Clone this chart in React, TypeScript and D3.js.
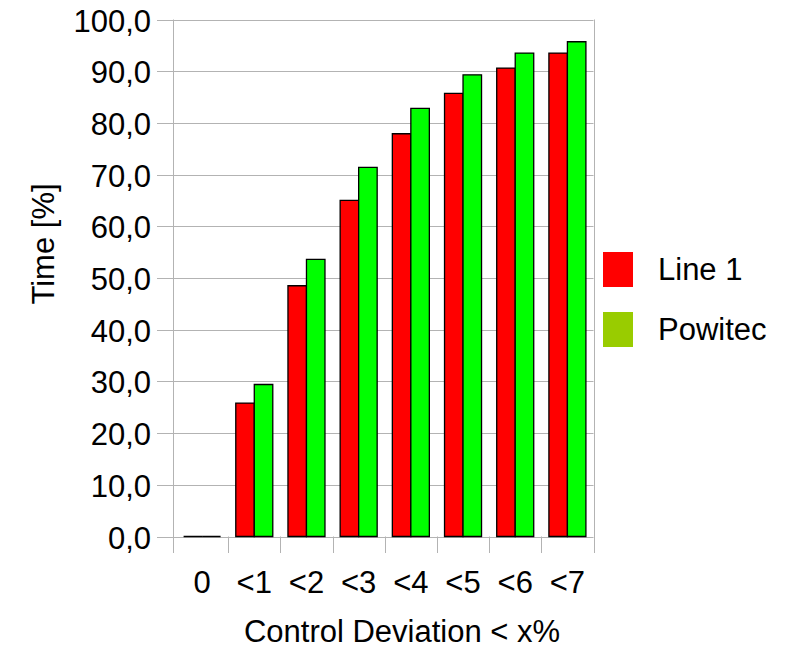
import { useRef, useEffect } from 'react';
import * as d3 from 'd3';

const categories = ['0', '<1', '<2', '<3', '<4', '<5', '<6', '<7'];
const series = ['Line 1', 'Powitec'];
const line1 = [0, 25.8, 48.5, 65.0, 77.9, 85.7, 90.6, 93.5];
const powitec = [0, 29.4, 53.6, 71.4, 82.8, 89.3, 93.5, 95.7];
const yTicks = [0, 10, 20, 30, 40, 50, 60, 70, 80, 90, 100];

const barColors = ['#ff0000', '#00ff00'];
const legendColors = ['#ff0000', '#99cc00'];

export default function App() {
  const svgRef = useRef<SVGSVGElement>(null);

  useEffect(() => {
    const svg = d3.select(svgRef.current);
    svg.selectAll('*').remove();

    const axisX = 173.5;
    const x0 = 176, x1 = 593.5;
    const top = 19.5, bottom = 536.5;
    const font = '"Liberation Sans", Arial, sans-serif';
    const fs = 31;

    const x = d3.scaleBand<string>().domain(categories).range([x0, x1]).padding(0);
    const xs = d3.scaleBand<string>().domain(series).range([0, x.bandwidth()])
      .paddingInner(0).paddingOuter(0.41);
    const y = d3.scaleLinear().domain([0, 100]).range([bottom, top]);

    const g = svg.append('g');

    // grid + y ticks
    yTicks.forEach(t => {
      const yy = Math.round(y(t)) + 0.5;
      g.append('line').attr('x1', 157).attr('x2', x1).attr('y1', yy).attr('y2', yy)
        .attr('stroke', '#b3b3b3').attr('stroke-width', 1);
      g.append('text').attr('x', 151).attr('y', yy + 11)
        .attr('text-anchor', 'end').attr('font-family', font).attr('font-size', fs)
        .attr('fill', '#000').text(d3.format('.1f')(t).replace('.', ','));
    });

    // vertical axis + right border
    g.append('line').attr('x1', axisX).attr('x2', axisX).attr('y1', top).attr('y2', 553)
      .attr('stroke', '#b3b3b3');
    // category ticks
    categories.forEach((c, i) => {
      if (i === 0) return;
      const xx = Math.round(x(c)!) + 0.5;
      g.append('line').attr('x1', xx).attr('x2', xx).attr('y1', bottom).attr('y2', 553)
        .attr('stroke', '#b3b3b3');
    });
    const xr = Math.round(x1) + 0.5;
    g.append('line').attr('x1', xr).attr('x2', xr).attr('y1', top).attr('y2', 553)
      .attr('stroke', '#b3b3b3');

    // bars
    const data = [line1, powitec];
    categories.forEach((c, i) => {
      series.forEach((s, j) => {
        const bx = x(c)! + xs(s)!;
        const bw = xs.bandwidth();
        const by = y(data[j][i]);
        g.append('path')
          .attr('d', `M${bx},${bottom} V${by} H${bx + bw} V${bottom} Z`)
          .attr('fill', barColors[j]).attr('stroke', '#000').attr('stroke-width', 1.3)
          .attr('stroke-linejoin', 'miter');
      });
      g.append('text').attr('x', x(c)! + x.bandwidth() / 2).attr('y', 593)
        .attr('text-anchor', 'middle').attr('font-family', font).attr('font-size', fs)
        .text(c);
    });

    // axis titles
    svg.append('text').attr('x', 402).attr('y', 642).attr('text-anchor', 'middle')
      .attr('font-family', font).attr('font-size', fs).text('Control Deviation < x%');
    svg.append('text').attr('transform', 'translate(54,244) rotate(-90)')
      .attr('text-anchor', 'middle').attr('font-family', font).attr('font-size', fs)
      .text('Time [%]');

    // legend
    series.forEach((s, j) => {
      const ly = 252 + j * 60;
      svg.append('rect').attr('x', 603).attr('y', ly).attr('width', 30).attr('height', 35)
        .attr('fill', legendColors[j]);
      svg.append('text').attr('x', 658).attr('y', ly + 28)
        .attr('font-family', font).attr('font-size', fs).text(s);
    });
  }, []);

  return (
    <div style={{ position: 'absolute', left: 0, top: 0 }}>
      <svg ref={svgRef} width={789} height={655} style={{ display: 'block', background: '#fff' }} />
    </div>
  );
}
